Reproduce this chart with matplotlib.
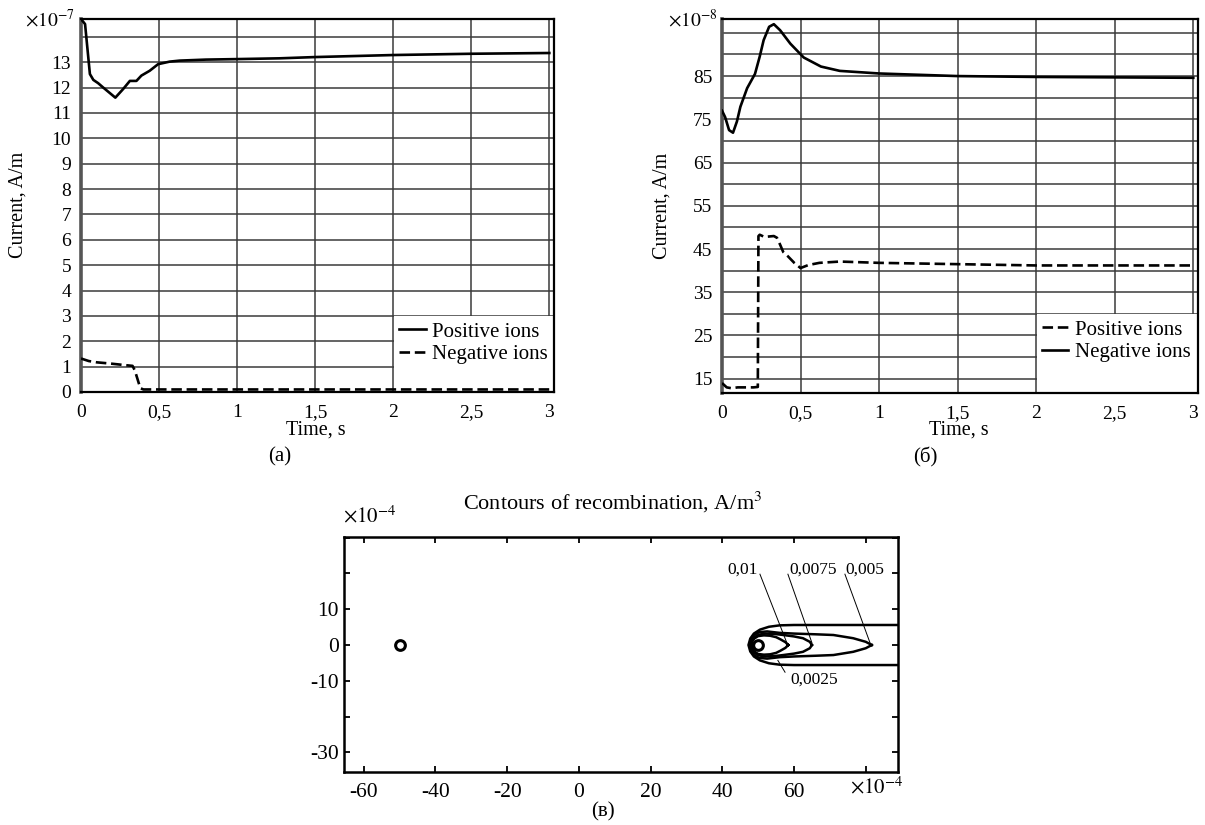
import matplotlib
matplotlib.use("Agg")
import matplotlib.pyplot as plt
from matplotlib.patches import Rectangle

plt.rcParams["font.family"] = ["Liberation Serif", "DejaVu Serif"]
plt.rcParams["mathtext.fontset"] = "stix"

# --- (a) corrientes, x10^-7 A/m ---
t_pos_a = [0, 0.026, 0.057, 0.079, 0.11, 0.142, 0.185, 0.22, 0.27, 0.313, 0.355, 0.387,
           0.44, 0.494, 0.568, 0.632, 0.8, 1.0, 1.27, 1.5, 2.0, 2.5, 3.0]
i_pos_a = [14.7, 14.5, 12.53, 12.3, 12.17, 12.0, 11.78, 11.6, 11.94, 12.26, 12.26, 12.47,
           12.66, 12.92, 13.02, 13.06, 13.1, 13.12, 13.15, 13.2, 13.28, 13.33, 13.36]
t_neg_a = [0, 0.05, 0.1, 0.19, 0.28, 0.33, 0.345, 0.36, 0.38, 0.4, 0.5, 1, 2, 3]
i_neg_a = [1.32, 1.22, 1.17, 1.12, 1.06, 1.03, 0.85, 0.55, 0.15, 0.1, 0.1, 0.1, 0.1, 0.1]

# --- (б) corrientes, x10^-8 A/m ---
t_pos_b = [0, 0.03, 0.06, 0.1, 0.15, 0.2, 0.228, 0.232, 0.24, 0.27, 0.3, 0.33, 0.35, 0.37,
           0.39, 0.42, 0.46, 0.5, 0.55, 0.62, 0.75, 1.0, 1.5, 2.0, 2.5, 3.0]
i_pos_b = [14.0, 13.0, 12.8, 13.0, 13.0, 13.0, 13.1, 48.0, 48.3, 47.8, 47.9, 48.0, 47.6, 46.0,
           44.3, 43.3, 41.8, 40.6, 41.3, 41.8, 42.1, 41.8, 41.5, 41.2, 41.2, 41.2]
t_neg_b = [0, 0.02, 0.045, 0.07, 0.095, 0.117, 0.16, 0.21, 0.24, 0.265, 0.30, 0.33, 0.37,
           0.435, 0.52, 0.63, 0.75, 1.0, 1.5, 2.0, 2.5, 3.0]
i_neg_b = [77, 75.5, 72.5, 71.9, 74.5, 77.9, 82.2, 85.5, 89.5, 93.3, 96.4, 97.0, 95.6,
           92.5, 89.3, 87.2, 86.2, 85.6, 85.0, 84.8, 84.7, 84.6]

ticks_t = [0, 0.5, 1, 1.5, 2, 2.5, 3]
labels_t = ["0", "0,5", "1", "1,5", "2", "2,5", "3"]

# --- (в) contornos (mitad superior, x10^-4) ---
c0025_x = [95, 70, 60, 56, 53, 50.5, 48.8, 47.8, 47.3]
c0025_y = [5.6, 5.6, 5.6, 5.5, 5.1, 4.3, 3.2, 1.8, 0]
c005_x = [81.7, 80, 76.5, 71, 66, 60, 56, 52.5, 50.3, 48.8, 48.0, 47.7]
c005_y = [0, 0.9, 1.9, 2.8, 3.0, 3.2, 3.4, 3.8, 3.6, 2.8, 1.6, 0]
c0075_x = [65, 64.4, 62.5, 60, 57, 54.5, 52, 50.2, 48.9, 48.2, 48.0]
c0075_y = [0, 0.9, 1.9, 2.4, 2.8, 3.1, 3.2, 2.9, 2.2, 1.2, 0]
c001_x = [58.4, 57.6, 56.2, 55, 53.3, 51.6, 50, 48.9, 48.4, 48.3]
c001_y = [0, 0.8, 1.6, 2.2, 2.6, 2.7, 2.5, 1.8, 1.0, 0]
electrodos_x = [-50, 50]
electrodos_y = [0, 0]

niveles = ["0,01", "0,0075", "0,005", "0,0025"]
etiqueta_xy = [(45.7, 21.2), (65.3, 21.2), (79.8, 21.2), (65.5, -9.8)]
guia_ini = [(50.5, 19.8), (58.3, 19.8), (74.2, 19.8), (57.5, -7.6)]
guia_fin = [(58.0, 0.6), (65.0, 0.6), (81.2, 0.6), (55.5, -4.3)]

W, H = 1205, 825
DASH = (4, 1.8)


def fx(px):
    return px / W


def fy(py):
    return 1 - py / H


fig = plt.figure(figsize=(12.05, 8.25), dpi=100)


def panel_corriente(rect, ylim, yticks, ylabels, caja_top):
    ax = fig.add_axes(rect)
    ax.set_xlim(0, 3.03)
    ax.set_ylim(*ylim)
    ax.set_xticks(ticks_t, labels_t)
    ax.set_yticks(yticks, ylabels)
    ax.tick_params(length=0, labelsize=14)
    ax.tick_params(axis="x", pad=9)
    ax.tick_params(axis="y", pad=7)
    ax.grid(True, color="#3a3a3a", lw=1.1)
    ax.set_axisbelow(True)
    for s in ax.spines.values():
        s.set_linewidth(1.6)
    ax.spines["left"].set_linewidth(2.6)
    ax.spines["left"].set_color("#555555")
    # caja blanca de la leyenda
    ax.add_patch(Rectangle((2.008, ylim[0]), 1.1, caja_top - ylim[0] - 0.02 * (ylim[1] - ylim[0]) / 14.7,
                           facecolor="white", edgecolor="none", zorder=1))
    return ax


def leyenda(ax, x0, y0):
    ax.legend(loc="upper left", bbox_to_anchor=(x0, y0), bbox_transform=ax.transData,
              frameon=False, fontsize=15, handlelength=1.25, handletextpad=0.3,
              borderpad=0.3, labelspacing=0.15, borderaxespad=0)


# --- (a) ---
ax1 = panel_corriente([fx(81), fy(392), fx(473), 373 / H], (0, 14.7), list(range(15)),
                      [str(i) for i in range(14)] + [""], 3.0)
ax1.plot(t_pos_a, i_pos_a, color="black", lw=1.9, label="Positive ions", zorder=3)
ax1.plot(t_neg_a, i_neg_a, color="black", lw=1.9, dashes=DASH, label="Negative ions", zorder=3)
leyenda(ax1, 2.0, 3.0)

fig.text(fx(18), fy(205), "Current, A/m", rotation=90, ha="center", va="center", fontsize=14.5)
fig.text(fx(316), fy(430), "Time, s", ha="center", va="center", fontsize=14.5)
fig.text(fx(280), fy(457), "(a)", ha="center", va="center", fontsize=15)
fig.text(fx(25), fy(20), r"$\times10^{-7}$", ha="left", va="center", fontsize=14)

# --- (б) ---
yt_b = list(range(15, 100, 5))
yl_b = [str(v) if v % 10 == 5 and v <= 85 else "" for v in yt_b]
ax2 = panel_corriente([fx(722), fy(393), fx(476), 374 / H], (11.7, 98.2), yt_b, yl_b, 30.0)
ax2.plot(t_pos_b, i_pos_b, color="black", lw=1.9, dashes=DASH, label="Positive ions", zorder=3)
ax2.plot(t_neg_b, i_neg_b, color="black", lw=1.9, label="Negative ions", zorder=3)
leyenda(ax2, 2.0, 30.0)

fig.text(fx(662), fy(206), "Current, A/m", rotation=90, ha="center", va="center", fontsize=14.5)
fig.text(fx(959), fy(430), "Time, s", ha="center", va="center", fontsize=14.5)
fig.text(fx(925), fy(457), "(б)", ha="center", va="center", fontsize=15)
fig.text(fx(668), fy(20), r"$\times10^{-8}$", ha="left", va="center", fontsize=14)

# --- (в) ---
ax3 = fig.add_axes([fx(344), fy(772), fx(554), 235 / H])
ax3.set_xlim(-65.5, 89)
ax3.set_ylim(-35.5, 30.2)
ax3.set_xticks(list(range(-60, 81, 20)), ["-60", "-40", "-20", "0", "20", "40", "60", ""])
ax3.set_yticks(list(range(-30, 31, 10)), ["-30", "", "-10", "0", "10", "", ""])
ax3.tick_params(direction="in", top=True, right=True, length=4, width=1.3, labelsize=15.5)
ax3.tick_params(axis="x", pad=8)
for s in ax3.spines.values():
    s.set_linewidth(1.8)

for cx, cy in [(c0025_x, c0025_y), (c005_x, c005_y), (c0075_x, c0075_y), (c001_x, c001_y)]:
    ax3.plot(cx + cx[::-1], cy + [-v for v in cy[::-1]], color="black", lw=1.8)
ax3.plot(electrodos_x, electrodos_y, ls="none", marker="o", ms=7, mfc="white",
         mec="black", mew=2.2)

for nombre, pos, a, b in zip(niveles, etiqueta_xy, guia_ini, guia_fin):
    ax3.text(pos[0], pos[1], nombre, ha="center", va="center", fontsize=12.5)
    ax3.plot([a[0], b[0]], [a[1], b[1]], color="black", lw=0.7)

fig.text(fx(613), fy(502), "Contours of recombination, A/m$^3$", ha="center", va="center", fontsize=16)
fig.text(fx(343), fy(517), r"$\times10^{-4}$", ha="left", va="center", fontsize=15)
fig.text(fx(850), fy(788), r"$\times10^{-4}$", ha="left", va="center", fontsize=15)
fig.text(fx(603), fy(812), "(в)", ha="center", va="center", fontsize=15)

plt.savefig("out.png", dpi=100)
